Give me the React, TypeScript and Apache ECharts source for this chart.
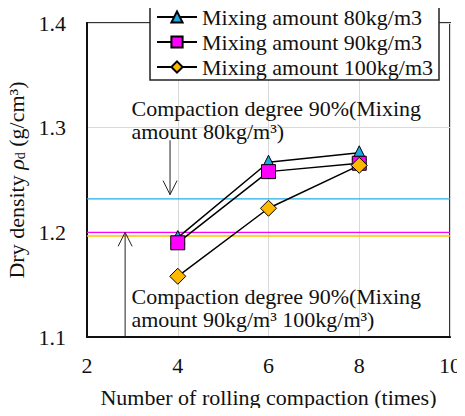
import React, { useEffect, useRef } from "react";
import * as echarts from "echarts";

const passes = [4, 6, 8];
const density80 = [1.195, 1.267, 1.276];
const density90 = [1.19, 1.258, 1.266];
const density100 = [1.158, 1.223, 1.264];
const seriesNames = [
  "Mixing amount 80kg/m3",
  "Mixing amount 90kg/m3",
  "Mixing amount 100kg/m3",
];
const target80 = 1.232;
const target90 = 1.2;
const target100 = 1.1965;
const xTicks = [2, 4, 6, 8, 10];
const yTicks = [1.1, 1.2, 1.3, 1.4];
const noteTop = ["Compaction degree 90%(Mixing", "amount 80kg/m³)"];
const noteBottom = ["Compaction degree 90%(Mixing", "amount 90kg/m³ 100kg/m³)"];

const FONT = "Liberation Serif";
const FS = 22;

export default function App() {
  const ref = useRef<HTMLDivElement>(null);
  useEffect(() => {
    if (!ref.current) return;
    const chart = echarts.init(ref.current, null, { renderer: "svg" });
    const mk = (name: string, vals: number[], symbol: string, color: string) => ({
      name,
      type: "line",
      data: passes.map((p, i) => [p, vals[i]]),
      symbol,
      symbolSize: symbol === "diamond" ? 16 : 14,
      lineStyle: { color: "#000", width: 1.5 },
      itemStyle: { color, borderColor: "#000", borderWidth: 1 },
      z: 5,
    });
    const target = (value: number, color: string) => ({
      type: "line",
      data: [
        [xTicks[0], value],
        [xTicks[xTicks.length - 1], value],
      ],
      symbol: "none",
      silent: true,
      lineStyle: { color, width: 1.3 },
      z: 2,
    });
    chart.setOption({
      animation: false,
      backgroundColor: "#fff",
      textStyle: { fontFamily: FONT },
      grid: {
        left: 87,
        right: 15,
        top: 23,
        bottom: 79,
        containLabel: false,
        outerBoundsMode: "none",
        show: true,
        borderColor: "#333",
        borderWidth: 2,
      },
      legend: {
        orient: "vertical",
        left: 150,
        top: 3,
        itemWidth: 40,
        itemHeight: 14,
        itemGap: 3,
        padding: [3, 6, 2, 6],
        backgroundColor: "#fff",
        borderColor: "#222",
        borderWidth: 1.5,
        textStyle: { fontSize: FS, color: "#111", fontFamily: FONT },
        data: seriesNames,
      },
      xAxis: {
        type: "value",
        min: 2,
        max: 10,
        interval: 2,
        name: "Number of rolling compaction (times)",
        nameLocation: "middle",
        nameGap: 49,
        nameTextStyle: { fontSize: FS, color: "#111", fontFamily: FONT },
        axisLine: { show: true, lineStyle: { color: "#111", width: 2 } },
        axisTick: { show: false },
        axisLabel: {
          fontSize: FS,
          color: "#111",
          margin: 17,
          fontFamily: FONT,
          formatter: (v: number) => (xTicks.includes(v) ? String(v) : ""),
        },
        splitLine: { show: true, lineStyle: { color: "#d9d9d9", width: 1 } },
      },
      yAxis: {
        type: "value",
        min: 1.1,
        max: 1.4,
        interval: 0.1,
        name: "{t|Dry density }{i|ρ}{s|d}{t| (g/cm³)}",
        nameLocation: "middle",
        nameGap: 44,
        nameTextStyle: {
          fontFamily: FONT,
          fontSize: FS,
          color: "#111",
          rich: {
            t: { fontSize: FS, fontFamily: FONT, color: "#111" },
            i: { fontSize: FS, fontStyle: "italic", fontFamily: FONT, color: "#111" },
            s: { fontSize: 14, fontFamily: FONT, color: "#111", verticalAlign: "bottom", padding: [7, 0, 0, 0] },
          },
        },
        axisLine: { show: true, lineStyle: { color: "#111", width: 2 } },
        axisTick: { show: false },
        axisLabel: {
          fontSize: FS,
          color: "#111",
          margin: 21,
          fontFamily: FONT,
          formatter: (v: number) => {
            const t = yTicks.find((y) => Math.abs(y - v) < 1e-6);
            return t !== undefined ? t.toFixed(1) : "";
          },
        },
        splitLine: { show: true, lineStyle: { color: "#d9d9d9", width: 1 } },
      },
      series: [
        target(target80, "#1eb0e6"),
        target(target90, "#ff00ff"),
        target(target100, "#ffc000"),
        mk(seriesNames[0], density80, "triangle", "#19a9e0"),
        mk(seriesNames[1], density90, "rect", "#ff00ff"),
        mk(seriesNames[2], density100, "diamond", "#ffb800"),
      ],
    });

    const px = (x: number, y: number) =>
      chart.convertToPixel({ xAxisIndex: 0, yAxisIndex: 0 }, [x, y]) as number[];
    const arrow = (x: number, yFrom: number, yTo: number) => {
      const a = px(x, yFrom);
      const b = px(x, yTo);
      const dir = b[1] > a[1] ? 1 : -1;
      return [
        { type: "line", shape: { x1: a[0], y1: a[1], x2: b[0], y2: b[1] }, style: { stroke: "#222", lineWidth: 1 }, z: 20 },
        {
          type: "polyline",
          shape: { points: [[b[0] - 7, b[1] - dir * 14], [b[0], b[1]], [b[0] + 7, b[1] - dir * 14]] },
          style: { stroke: "#222", lineWidth: 1, fill: "none" },
          z: 20,
        },
      ];
    };
    const note = (x: number, y: number, lines: string[]) => {
      const p = px(x, y);
      return lines.map((t, i) => ({
        type: "text",
        x: p[0],
        y: p[1] + i * 23,
        style: { text: t, fontSize: FS, fontFamily: FONT, fill: "#111", verticalAlign: "middle", align: "left" },
        z: 20,
      }));
    };
    chart.setOption({
      graphic: [
        ...arrow(3.83, 1.288, 1.236),
        ...arrow(2.84, 1.1, 1.2),
        ...note(2.98, 1.318, noteTop),
        ...note(2.98, 1.139, noteBottom),
      ],
    });
    return () => chart.dispose();
  }, []);
  return <div ref={ref} style={{ width: 465, height: 416, margin: -8 }} />;
}
